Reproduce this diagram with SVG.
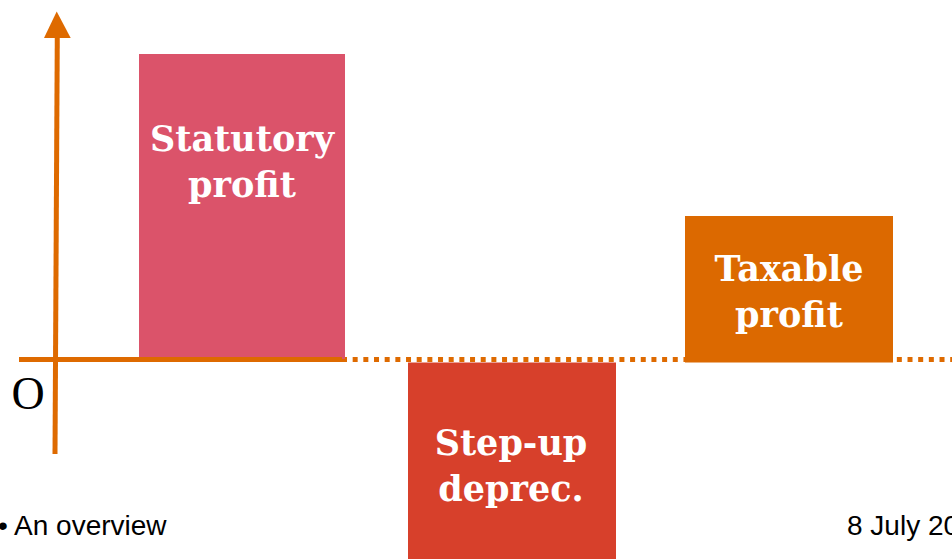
<svg xmlns="http://www.w3.org/2000/svg" width="952" height="559" viewBox="0 0 952 559">
<style>
.lbl{font-family:"DejaVu Serif","Liberation Serif",serif;font-weight:bold;font-size:35px;fill:#ffffff;text-anchor:middle}
.foot{font-family:"Liberation Sans",Arial,sans-serif;font-size:28px;fill:#000000}
.axis{stroke:#DE6A00;stroke-width:5;fill:none}
</style>
<rect width="952" height="559" fill="#ffffff"/>
<g id="connectors">
<line class="axis" x1="342" y1="359.5" x2="952" y2="359.5" stroke-dasharray="5 5.67"/>
</g>
<g id="statutory">
<rect x="139" y="54" width="206" height="305" fill="#DB536A"/>
<text class="lbl" x="242" y="150.5">Statutory</text>
<text class="lbl" x="242" y="196.5">profit</text>
</g>
<g id="taxable">
<rect x="685" y="216" width="208" height="146.5" fill="#DC6900"/>
<text class="lbl" x="789" y="281">Taxable</text>
<text class="lbl" x="789" y="327">profit</text>
</g>
<g id="stepup">
<rect x="408" y="362.5" width="208" height="197" fill="#D7402B"/>
<text class="lbl" x="511" y="455">Step-up</text>
<text class="lbl" x="511" y="501">deprec.</text>
</g>
<g id="axes">
<line class="axis" x1="57.3" y1="34" x2="55" y2="454"/>
<line class="axis" x1="19" y1="359.5" x2="342" y2="359.5"/>
<polygon points="44,38 56.7,11.5 70.7,38" fill="#DE6A00"/>
<text x="28" y="408.5" font-family="'Liberation Serif',serif" font-size="46" text-anchor="middle" fill="#000">O</text>
</g>
<g id="footer">
<text class="foot" x="-2" y="535" font-size="29">• An overview</text>
<text class="foot" x="847" y="535">8 July 20</text>
</g>
</svg>
